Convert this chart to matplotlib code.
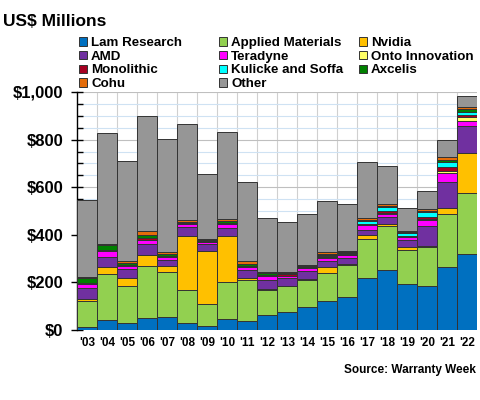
import numpy as np
import matplotlib
matplotlib.use('Agg')
import matplotlib.pyplot as plt
from matplotlib.ticker import MultipleLocator, FuncFormatter

plt.rcParams['font.family'] = ['Liberation Sans', 'DejaVu Sans']
plt.rcParams['font.weight'] = 'bold'

years = ["'03", "'04", "'05", "'06", "'07", "'08", "'09", "'10", "'11", "'12",
         "'13", "'14", "'15", "'16", "'17", "'18", "'19", "'20", "'21", "'22"]

# US$ millions
lam = [14, 41, 31, 49, 56, 28, 18, 45, 39, 63, 77, 96, 123, 138, 218, 254, 193, 183, 265, 321]
applied = [108, 194, 155, 221, 188, 141, 92, 156, 172, 106, 106, 115, 116, 137, 165, 183, 145, 166, 224, 256]
nvidia = [8, 30, 32, 44, 26, 225, 221, 193, 7, 3, 3, 3, 24, 4, 16, 9, 10, 6, 22, 165]
amd = [46, 42, 38, 48, 23, 38, 31, 36, 33, 39, 32, 32, 26, 24, 21, 29, 29, 82, 109, 114]
teradyne = [17, 24, 12, 18, 13, 12, 8, 14, 14, 14, 10, 15, 14, 11, 20, 14, 13, 27, 38, 21]
onto = [0, 0, 0, 0, 0, 0, 0, 0, 0, 0, 0, 0, 3, 2, 2, 2, 2, 4, 8, 17]
monolithic = [4, 4, 2, 6, 5, 5, 6, 6, 5, 4, 6, 5, 4, 4, 4, 10, 4, 6, 17, 10]
kulicke = [0, 0, 5, 0, 0, 0, 0, 0, 0, 0, 0, 0, 7, 3, 10, 14, 12, 20, 21, 11]
axcelis = [20, 24, 6, 14, 10, 4, 4, 8, 9, 10, 5, 4, 4, 5, 8, 5, 5, 7, 10, 12]
cohu = [4, 3, 8, 14, 7, 9, 3, 10, 10, 3, 3, 5, 5, 4, 6, 8, 4, 6, 11, 10]
other = [324, 466, 419, 485, 475, 404, 272, 363, 331, 230, 212, 211, 216, 199, 234, 162, 97, 75, 74, 45]

series = [
    ('Lam Research', lam, '#0070C0'),
    ('Applied Materials', applied, '#92D050'),
    ('Nvidia', nvidia, '#FFC000'),
    ('AMD', amd, '#7030A0'),
    ('Teradyne', teradyne, '#FF00FF'),
    ('Onto Innovation', onto, '#FFFF66'),
    ('Monolithic', monolithic, '#A50021'),
    ('Kulicke and Soffa', kulicke, '#00FFFF'),
    ('Axcelis', axcelis, '#008000'),
    ('Cohu', cohu, '#E46C0A'),
    ('Other', other, '#969696'),
]

fig = plt.figure(figsize=[4.8, 4.0], dpi=100)
ax = fig.add_axes([77 / 480, 70 / 400, 400 / 480, 238 / 400])

x = np.arange(len(years))
bottom = np.zeros(len(years))
handles = {}
for name, vals, color in series:
    b = ax.bar(x, vals, width=1.0, bottom=bottom, align='edge', color=color,
               edgecolor='#333333', linewidth=0.7, zorder=3)
    handles[name] = b
    bottom = bottom + np.array(vals)

ax.set_xlim(0, len(years))
ax.set_ylim(0, 1000)

ax.yaxis.set_major_locator(MultipleLocator(200))
ax.yaxis.set_minor_locator(MultipleLocator(50))
ax.yaxis.set_major_formatter(FuncFormatter(lambda v, p: '${:,.0f}'.format(v)))
ax.grid(axis='y', which='minor', color='#cfe2f3', linewidth=0.8, zorder=0)
ax.grid(axis='y', which='major', color='#bfbfbf', linewidth=0.8, zorder=1)

ax.set_xticks(x + 0.5)
ax.set_xticklabels(years)
ax.set_xticks(np.arange(1, len(years)), minor=True)
ax.grid(axis='x', which='minor', color='#d0d0d0', linewidth=0.8, zorder=0)
ax.tick_params(axis='x', which='both', length=0, pad=5, labelsize=8.5)
ax.tick_params(axis='y', which='major', direction='inout', length=8, width=1,
               labelsize=12, pad=6)
ax.tick_params(axis='y', which='minor', direction='in', length=4, width=1)

for s in ['top', 'right', 'bottom']:
    ax.spines[s].set_visible(False)
ax.spines['left'].set_linewidth(1)

for lbl in ax.get_xticklabels() + ax.get_yticklabels():
    lbl.set_fontweight('bold')

# legend laid out in three fixed-width columns, filled row by row
columns = [['Lam Research', 'AMD', 'Monolithic', 'Cohu'],
           ['Applied Materials', 'Teradyne', 'Kulicke and Soffa', 'Other'],
           ['Nvidia', 'Onto Innovation', 'Axcelis']]
col_x = [79, 219, 359]
for names, cx in zip(columns, col_x):
    leg = fig.legend([handles[n] for n in names], names, ncol=1, loc='upper left',
                     bbox_to_anchor=(cx / 480, 1 - 37 / 400), frameon=False,
                     fontsize=9.6, handlelength=0.6, handleheight=0.6,
                     handletextpad=0.3, labelspacing=0.13,
                     borderaxespad=0, borderpad=0)
    for t in leg.get_texts():
        t.set_fontweight('bold')

fig.text(3 / 480, 1 - 21 / 400, 'US$ Millions', fontsize=12.5, fontweight='bold',
         va='center', ha='left')
fig.text(476 / 480, 1 - 370 / 400, 'Source: Warranty Week', fontsize=8.5,
         fontweight='bold', va='center', ha='right')

plt.savefig('out.png', dpi=100)
